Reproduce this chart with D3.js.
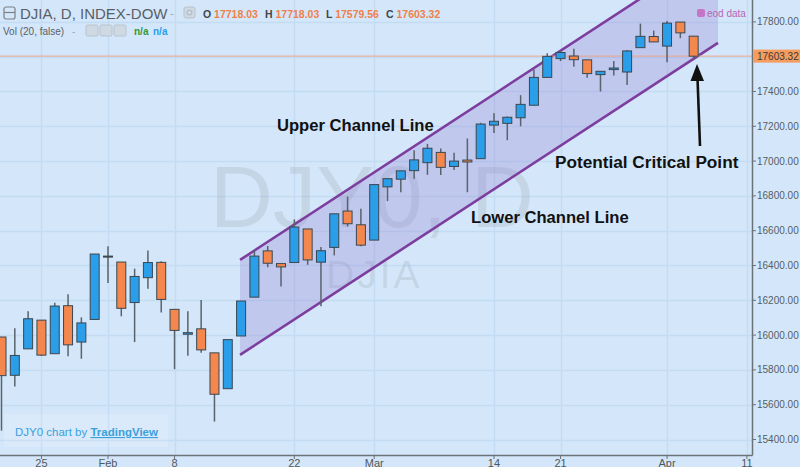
<!DOCTYPE html>
<html><head><meta charset="utf-8">
<script src="https://cdn.jsdelivr.net/npm/d3@7"></script>
<style>html,body{margin:0;padding:0;background:#d4e7fa;}svg{display:block;font-family:"Liberation Sans",Arial,sans-serif;}</style>
</head><body>
<script>
// ---- data ----
const dates = ["2016-01-20","2016-01-21","2016-01-22","2016-01-25","2016-01-26","2016-01-27","2016-01-28","2016-01-29",
"2016-02-01","2016-02-02","2016-02-03","2016-02-04","2016-02-05","2016-02-08","2016-02-09","2016-02-10","2016-02-11","2016-02-12",
"2016-02-16","2016-02-17","2016-02-18","2016-02-19","2016-02-22","2016-02-23","2016-02-24","2016-02-25","2016-02-26","2016-02-29",
"2016-03-01","2016-03-02","2016-03-03","2016-03-04","2016-03-07","2016-03-08","2016-03-09","2016-03-10","2016-03-11",
"2016-03-14","2016-03-15","2016-03-16","2016-03-17","2016-03-18","2016-03-21","2016-03-22","2016-03-23","2016-03-24",
"2016-03-28","2016-03-29","2016-03-30","2016-03-31","2016-04-01","2016-04-04","2016-04-05"];
const openV  = [15989,15769,15921,16086,15893,16169,15960,16090,16454,16420,16187,16330,16418,16148,16005,16036,15898,15692,15995,16218,16484,16411,16417,16610,16419,16504,16713,16634,16546,16852,16896,16945,16991,17050,16969,17006,17014,17207,17217,17249,17321,17481,17589,17604,17582,17497,17526,17512,17652,17716,17661,17799,17718];
const highV  = [15990,16039,16137,16086,16186,16235,16102,16466,16511,16420,16382,16486,16424,16148,16137,16202,15898,15974,16196,16487,16512,16411,16665,16610,16507,16697,16796,16726,16866,16901,16944,17062,17099,17073,17048,17130,17220,17275,17256,17379,17527,17620,17631,17645,17583,17516,17575,17638,17790,17750,17805,17799,17718];
const lowV   = [15451,15705,15921,15880,15893,15878,15864,16090,16299,16108,15960,16266,16130,15804,15881,15899,15503,15692,15995,16218,16390,16279,16417,16404,16166,16458,16624,16510,16546,16770,16821,16898,16921,16920,16949,16821,17014,17161,17120,17200,17321,17481,17575,17542,17479,17400,17492,17437,17652,17684,17568,17706,17580];
const closeV = [15767,15883,16094,15885,16167,15944,16070,16466,16449,16154,16337,16417,16205,16027,16014,15915,15660,15974,16196,16454,16413,16392,16621,16432,16485,16697,16640,16517,16865,16899,16944,17007,17074,16964,17000,16995,17213,17229,17252,17326,17481,17602,17624,17583,17503,17516,17535,17633,17717,17685,17793,17737,17603];
const futureDates = ["2016-04-06","2016-04-07","2016-04-08","2016-04-11"];
const tickDates  = ["2016-01-25","2016-02-01","2016-02-08","2016-02-22","2016-03-01","2016-03-14","2016-03-21","2016-04-01","2016-04-11"];
const tickLabels = ["25","Feb","8","22","Mar","14","21","Apr","11"];
const priceTicks = [15400,15600,15800,16000,16200,16400,16600,16800,17000,17200,17400,17600,17800];
const lastPrice = 17603.32;
const headerOHLC = [["O","17718.03"],["H","17718.03"],["L","17579.56"],["C","17603.32"]];
// channel (start/end position in trading-day index, values)
const channelIdx   = [17.92, 53.83];
const channelUpper = [16432, 18225];
const channelLower = [15886, 17679];

// ---- layout ----
const W = 800, H = 467;
const plotR = 752, plotB = 455;
const allDates = dates.concat(futureDates);
const x = d3.scalePoint().domain(allDates).range([1.5, 746.9]);
const xi = d3.scaleLinear().domain([0, allDates.length - 1]).range([1.5, 746.9]);
const y = d3.scaleLinear().domain([15400, 17800]).range([439.5, 21.9]);

const svg = d3.select("body").append("svg").attr("width", W).attr("height", H);
svg.append("rect").attr("width", W).attr("height", H).attr("fill", "#d4e7fa");

svg.append("defs").append("clipPath").attr("id", "clip")
  .append("rect").attr("x", 0).attr("y", 0).attr("width", plotR).attr("height", plotB);

// grid
const grid = svg.append("g");
grid.selectAll("line.h").data(priceTicks).join("line")
  .attr("x1", 0).attr("x2", plotR).attr("y1", d => Math.round(y(d)) + 0.5).attr("y2", d => Math.round(y(d)) + 0.5)
  .attr("stroke", "#c3dbf3").attr("stroke-width", 1.5);
grid.selectAll("line.v").data(tickDates).join("line")
  .attr("x1", d => Math.round(x(d)) + 0.5).attr("x2", d => Math.round(x(d)) + 0.5).attr("y1", 0).attr("y2", plotB)
  .attr("stroke", "#c3dbf3").attr("stroke-width", 1.5);

// watermark
svg.append("text").attr("x", 210).attr("y", 227).attr("font-size", 87).attr("fill", "#8d96a0").attr("fill-opacity", 0.22)
  .text("DJY0, D");
svg.append("text").attr("x", 326).attr("y", 288).attr("font-size", 39).attr("letter-spacing", 3).attr("fill", "#8d96a0").attr("fill-opacity", 0.22)
  .text("DJIA");

const plot = svg.append("g").attr("clip-path", "url(#clip)");

// channel
const ux0 = xi(channelIdx[0]), ux1 = xi(channelIdx[1]);
const chPoly = [[ux0, y(channelUpper[0])], [ux1, y(channelUpper[1])], [ux1, y(channelLower[1])], [ux0, y(channelLower[0])]];
plot.append("path").attr("d", d3.line()(chPoly) + "Z").attr("fill", "#9c8ed8").attr("fill-opacity", 0.35);
plot.append("line").attr("x1", ux0).attr("y1", y(channelUpper[0])).attr("x2", ux1).attr("y2", y(channelUpper[1]))
  .attr("stroke", "#7d3d9e").attr("stroke-width", 2.6);
plot.append("line").attr("x1", ux0).attr("y1", y(channelLower[0])).attr("x2", ux1).attr("y2", y(channelLower[1]))
  .attr("stroke", "#7d3d9e").attr("stroke-width", 2.6);

// last price line
plot.append("line").attr("x1", 0).attr("x2", plotR).attr("y1", y(lastPrice)).attr("y2", y(lastPrice))
  .attr("stroke", "#eea58a").attr("stroke-width", 1);

// candles
const idx = d3.range(dates.length);
const bw = 9;
plot.selectAll("line.wick").data(idx).join("line")
  .attr("x1", i => x(dates[i])).attr("x2", i => x(dates[i]))
  .attr("y1", i => y(highV[i])).attr("y2", i => y(lowV[i]))
  .attr("stroke", "#59636b").attr("stroke-width", 1.5);
plot.selectAll("rect.body").data(idx).join("rect")
  .attr("x", i => x(dates[i]) - bw / 2)
  .attr("y", i => y(Math.max(openV[i], closeV[i])))
  .attr("width", bw)
  .attr("height", i => Math.max(1, Math.abs(y(openV[i]) - y(closeV[i]))))
  .attr("fill", i => closeV[i] >= openV[i] ? "#2a9ee8" : "#f4874d")
  .attr("stroke", "#3b4750").attr("stroke-width", 1);

// axes
svg.append("line").attr("x1", 0).attr("x2", plotR + 0.5).attr("y1", plotB + 0.5).attr("y2", plotB + 0.5).attr("stroke", "#6b7278").attr("stroke-width", 1.5);
svg.append("line").attr("x1", plotR + 0.5).attr("x2", plotR + 0.5).attr("y1", 0).attr("y2", plotB + 0.5).attr("stroke", "#6b7278").attr("stroke-width", 1.5);

const ra = svg.append("g");
ra.selectAll("line").data(priceTicks).join("line")
  .attr("x1", plotR).attr("x2", plotR + 4).attr("y1", d => y(d)).attr("y2", d => y(d)).attr("stroke", "#6b7278");
ra.selectAll("text").data(priceTicks).join("text")
  .attr("x", 757).attr("y", d => y(d) + 3.5).attr("font-size", 10).attr("fill", "#555d63")
  .text(d => d3.format(".2f")(d));

const ba = svg.append("g");
ba.selectAll("line").data(tickDates).join("line")
  .attr("x1", d => x(d)).attr("x2", d => x(d)).attr("y1", plotB).attr("y2", plotB + 4).attr("stroke", "#6b7278");
ba.selectAll("text").data(tickDates).join("text")
  .attr("x", d => x(d)).attr("y", 467).attr("text-anchor", "middle").attr("font-size", 11).attr("fill", "#50585e")
  .text((d, i) => tickLabels[i]);

// last price label
svg.append("rect").attr("x", plotR + 1).attr("y", y(lastPrice) - 6.5).attr("width", W - plotR - 1).attr("height", 13).attr("fill", "#f59c5e");
svg.append("text").attr("x", 757).attr("y", y(lastPrice) + 4).attr("font-size", 10).attr("fill", "#3a3a3a")
  .text(d3.format(".2f")(lastPrice));

// header
const hd = svg.append("g");
hd.append("rect").attr("x", 4).attr("y", 7).attr("width", 11).attr("height", 12).attr("rx", 2).attr("fill", "none").attr("stroke", "#7a8086").attr("stroke-width", 1.2);
hd.append("line").attr("x1", 4).attr("x2", 15).attr("y1", 12.5).attr("y2", 12.5).attr("stroke", "#7a8086").attr("stroke-width", 1.2);
hd.append("text").attr("x", 20).attr("y", 19).attr("font-size", 15).attr("fill", "#5a6066").text("DJIA, D, INDEX-DOW");
hd.append("text").attr("x", 170).attr("y", 17).attr("font-size", 11).attr("fill", "#a0a8b0").text("-");
hd.append("rect").attr("x", 184).attr("y", 7).attr("width", 11).attr("height", 11).attr("rx", 2).attr("fill", "#cfd9e3").attr("stroke", "#b7c2cc");
hd.append("circle").attr("cx", 189.5).attr("cy", 12.5).attr("r", 2.5).attr("fill", "none").attr("stroke", "#a9b4be");
const ohlcX = [203, 265, 326, 386];
headerOHLC.forEach((p, i) => {
  const t = hd.append("text").attr("x", ohlcX[i]).attr("y", 18).attr("font-size", 10.5).attr("font-weight", "bold");
  t.append("tspan").attr("fill", "#40464c").text(p[0] + " ");
  t.append("tspan").attr("fill", "#f0804a").text(p[1]);
});
hd.append("text").attr("x", 3).attr("y", 35).attr("font-size", 10).attr("fill", "#5a6066").text("Vol (20, false)");
hd.append("text").attr("x", 72).attr("y", 35).attr("font-size", 10).attr("fill", "#a0a8b0").text("-");
[86, 100, 114].forEach(px => {
  hd.append("rect").attr("x", px).attr("y", 25).attr("width", 12).attr("height", 11).attr("rx", 1.5).attr("fill", "#cfd9e3").attr("stroke", "#b7c2cc");
});
hd.append("text").attr("x", 134).attr("y", 35).attr("font-size", 10).attr("font-weight", "bold").attr("fill", "#2e9a3a").text("n/a");
hd.append("text").attr("x", 153).attr("y", 35).attr("font-size", 10).attr("font-weight", "bold").attr("fill", "#2a9ee8").text("n/a");

// eod data
svg.append("rect").attr("x", 697).attr("y", 9).attr("width", 8).attr("height", 8).attr("rx", 2).attr("fill", "#c674c6");
svg.append("text").attr("x", 707).attr("y", 17).attr("font-size", 10).attr("fill", "#b864b8").text("eod data");

// annotations
const ann = svg.append("g").attr("font-weight", "bold").attr("font-size", 16.6).attr("fill", "#111");
ann.append("text").attr("x", 277).attr("y", 131).text("Upper Channel Line");
ann.append("text").attr("x", 555).attr("y", 168).attr("font-size", 17.2).text("Potential Critical Point");
ann.append("text").attr("x", 471).attr("y", 223).text("Lower Channel Line");
svg.append("line").attr("x1", 700).attr("y1", 146).attr("x2", 697.5).attr("y2", 78).attr("stroke", "#111").attr("stroke-width", 2.6);
svg.append("path").attr("d", "M697,64 L690.5,81 L704,81 Z").attr("fill", "#111");

// credit box
svg.append("rect").attr("x", 4).attr("y", 414).attr("width", 164).attr("height", 33).attr("fill", "#ffffff").attr("fill-opacity", 0.14);
const cr = svg.append("text").attr("x", 15).attr("y", 436).attr("font-size", 11.5).attr("fill", "#3aa0dc");
cr.append("tspan").text("DJY0 chart by ");
cr.append("tspan").attr("font-weight", "bold").attr("text-decoration", "underline").text("TradingView");
</script>
</body></html>
